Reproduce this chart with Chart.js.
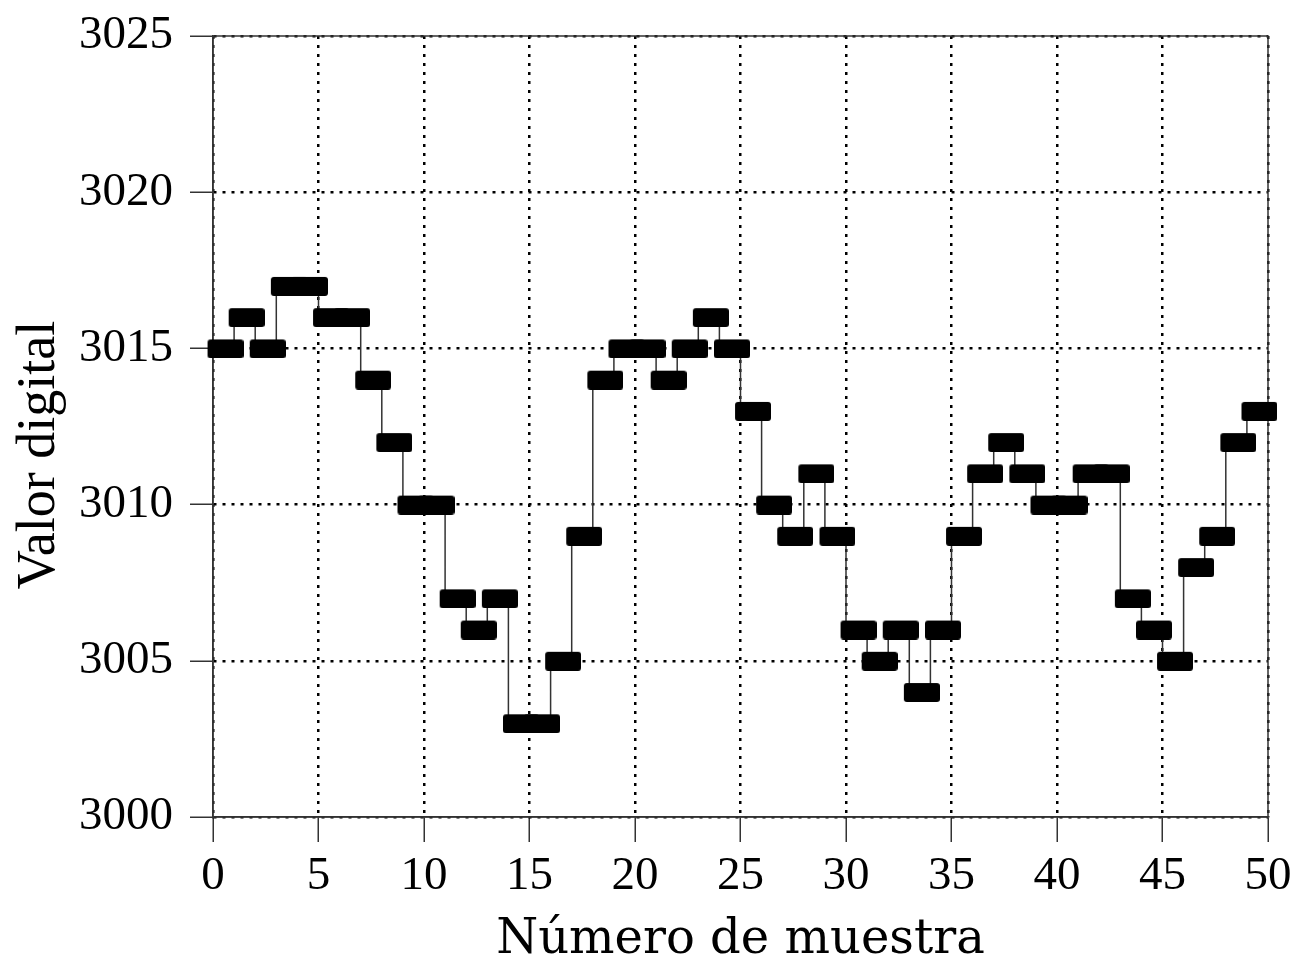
<!DOCTYPE html>
<html>
<head>
<meta charset="utf-8">
<script src="https://cdn.jsdelivr.net/npm/chart.js@4.4.1/dist/chart.umd.min.js"></script>
<style>
  body { margin: 0; background: #fff; }
</style>
</head>
<body>
<canvas id="muestras" width="1298" height="962"></canvas>
<script>
// Sample numbers and the digital value read at each one
const sampleNumbers = [
  0, 1, 2, 3, 4, 5, 6, 7, 8, 9,
  10, 11, 12, 13, 14, 15, 16, 17, 18, 19,
  20, 21, 22, 23, 24, 25, 26, 27, 28, 29,
  30, 31, 32, 33, 34, 35, 36, 37, 38, 39,
  40, 41, 42, 43, 44, 45, 46, 47, 48, 49,
];
const sampleValues = [
  3015, 3016, 3015, 3017, 3017, 3016, 3016, 3014, 3012, 3010,
  3010, 3007, 3006, 3007, 3003, 3003, 3005, 3009, 3014, 3015,
  3015, 3014, 3015, 3016, 3015, 3013, 3010, 3009, 3011, 3009,
  3006, 3005, 3006, 3004, 3006, 3009, 3011, 3012, 3011, 3010,
  3010, 3011, 3011, 3007, 3006, 3005, 3008, 3009, 3012, 3013,
];

// Tick labels
const xTicks = [0, 5, 10, 15, 20, 25, 30, 35, 40, 45, 50];
const yTicks = [3000, 3005, 3010, 3015, 3020, 3025];

const xTitle = "Número de muestra";
const yTitle = "Valor digital";

// Each value is held over one sample interval, the marker sits in its middle
const points = sampleNumbers.map((n, i) => ({ x: n + 0.5, y: sampleValues[i] }));

// Wide rounded black box used as the point marker
const marker = document.createElement("canvas");
marker.width = 40;
marker.height = 20;
const mctx = marker.getContext("2d");
mctx.fillStyle = "#000";
mctx.beginPath();
mctx.roundRect(4, 1, 36, 19, 3);
mctx.fill();

// Solid frame round the plot and the two axis titles
const frameAndTitles = {
  id: "frameAndTitles",
  beforeDatasetsDraw(chart) {
    const { ctx, chartArea: a } = chart;
    ctx.save();
    ctx.strokeStyle = "#333";
    ctx.lineWidth = 1.5;
    ctx.strokeRect(a.left, a.top, a.right - a.left, a.bottom - a.top);
    ctx.restore();
  },
  afterDraw(chart) {
    const { ctx, chartArea: a } = chart;
    ctx.save();
    ctx.fillStyle = "#000";
    ctx.textAlign = "center";
    ctx.textBaseline = "alphabetic";
    ctx.font = '48px "DejaVu Serif"';
    ctx.fillText(xTitle, (a.left + a.right) / 2, 953);
    ctx.translate(54, 455);
    ctx.rotate(-Math.PI / 2);
    ctx.font = '54px "Liberation Serif"';
    ctx.fillText(yTitle, 0, 0);
    ctx.restore();
  },
};

const tickFont = { family: "Liberation Serif", size: 47 };
const plainNumber = (v) => String(v);

const chart = new Chart(document.getElementById("muestras").getContext("2d"), {
  type: "line",
  data: {
    datasets: [
      {
        data: points,
        stepped: "middle",
        borderColor: "#333",
        borderWidth: 1.5,
        pointStyle: marker,
        pointRadius: 10,
        clip: false,
      },
    ],
  },
  options: {
    responsive: false,
    animation: false,
    layout: { padding: { left: 10, top: 36, right: 30, bottom: 0 } },
    plugins: { legend: { display: false }, tooltip: { enabled: false } },
    scales: {
      x: {
        type: "linear",
        min: 0,
        max: 50,
        afterBuildTicks: (scale) => {
          scale.ticks = xTicks.map((v) => ({ value: v }));
        },
        afterFit: (scale) => {
          scale.height = 145;
        },
        grid: {
          color: "#000",
          lineWidth: 2.5,
          borderDash: [3, 6],
          tickLength: 25,
          tickWidth: 1.5,
          tickColor: "#333",
          tickBorderDash: [],
        },
        border: { color: "#333", width: 1.5, dash: [3, 6] },
        ticks: { font: tickFont, color: "#000", padding: 6, maxRotation: 0, callback: plainNumber },
      },
      y: {
        min: 3000,
        max: 3025,
        afterBuildTicks: (scale) => {
          scale.ticks = yTicks.map((v) => ({ value: v }));
        },
        afterFit: (scale) => {
          scale.width = 203;
          scale.paddingTop = 0;
          scale.paddingBottom = 0;
        },
        grid: {
          color: "#000",
          lineWidth: 2.5,
          borderDash: [3, 6],
          tickLength: 23,
          tickWidth: 1.5,
          tickColor: "#333",
          tickBorderDash: [],
        },
        border: { color: "#333", width: 1.5, dash: [3, 6] },
        ticks: { font: tickFont, color: "#000", padding: 17, callback: plainNumber },
      },
    },
  },
  plugins: [frameAndTitles],
});
</script>
</body>
</html>
